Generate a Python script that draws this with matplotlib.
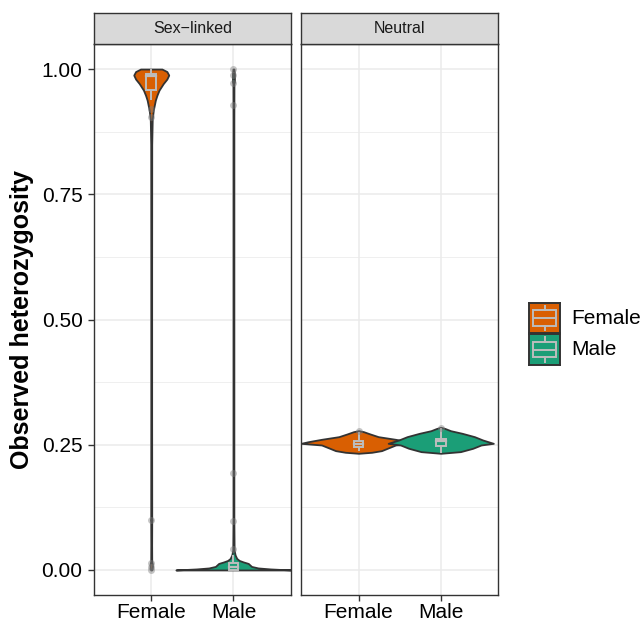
import matplotlib
matplotlib.use("Agg")
import matplotlib.pyplot as plt
from matplotlib.patches import Rectangle

plt.rcParams['font.family'] = ['Liberation Sans', 'DejaVu Sans']

# facets and groups
facets = ['Sex\u2212linked', 'Neutral']
sexes = ['Female', 'Male']
fills = {'Female': '#D95F02', 'Male': '#1B9E77'}

# violin outlines: y levels and half widths (x units)
sl_female_y = [0.0, 0.003, 0.008, 0.013, 0.018, 0.05, 0.095, 0.1, 0.105, 0.3, 0.6, 0.85,
               0.9, 0.918, 0.938, 0.948, 0.958, 0.971, 0.98, 0.988, 0.995, 1.0]
sl_female_w = [0.006, 0.012, 0.014, 0.012, 0.006, 0.005, 0.006, 0.01, 0.006, 0.005, 0.005, 0.006,
               0.012, 0.025, 0.05, 0.07, 0.095, 0.146, 0.19, 0.213, 0.19, 0.13]
sl_male_y = [0.0, 0.002, 0.004, 0.007, 0.010, 0.013, 0.016, 0.019, 0.023, 0.03, 0.04, 0.1,
             0.5, 0.9, 0.97, 0.975, 0.99, 1.0]
sl_male_w = [0.70, 0.45, 0.30, 0.22, 0.20, 0.18, 0.12, 0.07, 0.04, 0.02, 0.008, 0.005,
             0.005, 0.005, 0.006, 0.012, 0.012, 0.006]
neu_female_y = [0.2329, 0.2349, 0.2382, 0.2429, 0.2495, 0.2528, 0.2561, 0.2608, 0.2661,
                0.2715, 0.2761, 0.2781]
neu_female_w = [0.0, 0.16, 0.28, 0.35, 0.45, 0.70, 0.61, 0.45, 0.24, 0.14, 0.06, 0.0]
neu_male_y = [0.2329, 0.2362, 0.2429, 0.2495, 0.2528, 0.2595, 0.2661, 0.2728, 0.2780,
              0.2825, 0.2848]
neu_male_w = [0.0, 0.24, 0.39, 0.49, 0.64, 0.51, 0.41, 0.26, 0.12, 0.05, 0.0]

violins = {
    ('Sex\u2212linked', 'Female'): (sl_female_y, sl_female_w),
    ('Sex\u2212linked', 'Male'): (sl_male_y, sl_male_w),
    ('Neutral', 'Female'): (neu_female_y, neu_female_w),
    ('Neutral', 'Male'): (neu_male_y, neu_male_w),
}

# boxplot stats: whisker low, q1, median, q3, whisker high
box_stats = {
    ('Sex\u2212linked', 'Female'): [0.938, 0.958, 0.986, 0.99, 1.0],
    ('Sex\u2212linked', 'Male'): [0.0, 0.0, 0.005, 0.013, 0.03],
    ('Neutral', 'Female'): [0.237, 0.245, 0.252, 0.258, 0.276],
    ('Neutral', 'Male'): [0.233, 0.247, 0.258, 0.262, 0.283],
}
outliers = {
    ('Sex\u2212linked', 'Female'): [0.92, 0.905, 0.10, 0.013, 0.005, 0.0],
    ('Sex\u2212linked', 'Male'): [0.041, 0.097, 0.194, 0.928, 0.973, 0.988, 1.0],
    ('Neutral', 'Female'): [0.278],
    ('Neutral', 'Male'): [0.284],
}

W, H = 644, 623
fig = plt.figure(figsize=(W / 100, H / 100), dpi=100)

def fx(px):
    return px / W

def fy(py):
    return 1 - py / H

panel_left = [93.7, 301.0]
panel_w = 197.3
top, bottom = 44, 595
edge = '#333333'
boxgray = '#BDBDBD'

for i, facet in enumerate(facets):
    ax = fig.add_axes([fx(panel_left[i]), fy(bottom), fx(panel_w), (bottom - top) / H])
    ax.set_xlim(0.3, 2.7)
    ax.set_ylim(-0.05, 1.05)
    ax.set_yticks([0, 0.25, 0.5, 0.75, 1.0])
    ax.set_yticks([0.125, 0.375, 0.625, 0.875], minor=True)
    ax.set_xticks([1, 2])
    ax.grid(which='major', color='#EBEBEB', lw=1.1)
    ax.grid(which='minor', axis='y', color='#EBEBEB', lw=0.55)
    ax.set_axisbelow(True)
    for s in ax.spines.values():
        s.set_color(edge)
        s.set_linewidth(1.0)
    ax.tick_params(which='minor', length=0)
    ax.tick_params(which='major', length=4, width=1.0, color=edge, labelsize=15,
                   labelcolor='black', pad=2)
    ax.set_xticklabels(sexes)
    if i == 0:
        ax.set_yticklabels(['0.00', '0.25', '0.50', '0.75', '1.00'])
        ax.tick_params(axis='y', pad=4)
    else:
        ax.tick_params(axis='y', length=0, labelleft=False)

    # violins first
    for j, sex in enumerate(sexes):
        ys, ws = violins[(facet, sex)]
        xc = j + 1
        ax.fill_betweenx(ys, [xc - w for w in ws], [xc + w for w in ws],
                         facecolor=fills[sex], edgecolor=edge, lw=1.3, zorder=3)
    # boxplots on top
    for j, sex in enumerate(sexes):
        lo, q1, med, q3, hi = box_stats[(facet, sex)]
        xc = j + 1
        hw = 0.06
        ax.plot([xc, xc], [lo, q1], color=boxgray, lw=1.4, zorder=4, solid_capstyle='butt')
        ax.plot([xc, xc], [q3, hi], color=boxgray, lw=1.4, zorder=4, solid_capstyle='butt')
        ax.add_patch(Rectangle((xc - hw, q1), 2 * hw, q3 - q1, facecolor=fills[sex],
                               edgecolor=boxgray, lw=1.4, zorder=4))
        ax.plot([xc - hw, xc + hw], [med, med], color=boxgray, lw=1.6, zorder=4)
        pts = outliers[(facet, sex)]
        ax.plot([xc] * len(pts), pts, 'o', color='grey', alpha=0.45, ms=5, mew=0, zorder=5)

    # strip
    sax = fig.add_axes([fx(panel_left[i]), fy(top), fx(panel_w), (top - 13) / H])
    sax.set_facecolor('#D9D9D9')
    sax.set_xticks([])
    sax.set_yticks([])
    for s in sax.spines.values():
        s.set_color(edge)
        s.set_linewidth(1.0)
    sax.text(0.5, 0.5, facet, ha='center', va='center', fontsize=11.5, color='#1A1A1A',
             transform=sax.transAxes)

fig.text(fx(22), fy(319.5), 'Observed heterozygosity', rotation=90, ha='center', va='center',
         fontsize=18, fontweight='bold')

# legend
key_top = [302.7, 334.3]
for k, sex in enumerate(sexes):
    kax = fig.add_axes([fx(529.3), fy(key_top[k] + 30.7), fx(30.7), 30.7 / H])
    kax.set_xlim(0, 1)
    kax.set_ylim(0, 1)
    kax.set_xticks([])
    kax.set_yticks([])
    kax.set_facecolor(fills[sex])
    for s in kax.spines.values():
        s.set_color(edge)
        s.set_linewidth(1.4)
    kax.plot([0.5, 0.5], [0.1, 0.25], color=boxgray, lw=1.4)
    kax.plot([0.5, 0.5], [0.75, 0.9], color=boxgray, lw=1.4)
    kax.add_patch(Rectangle((0.12, 0.25), 0.76, 0.5, facecolor=fills[sex],
                            edgecolor=boxgray, lw=1.4))
    kax.plot([0.12, 0.88], [0.5, 0.5], color=boxgray, lw=1.4)
    fig.text(fx(571), fy(key_top[k] + 15.5), sex, ha='left', va='center', fontsize=15)

fig.savefig('out.png', dpi=100)
